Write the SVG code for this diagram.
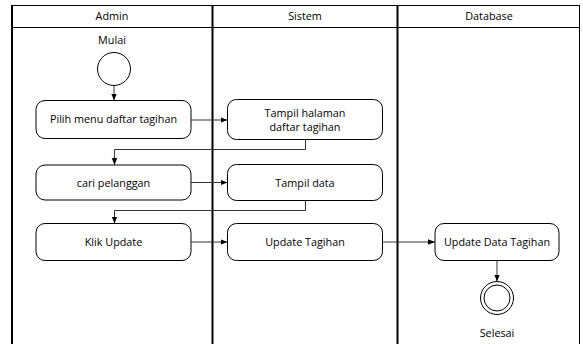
<svg xmlns="http://www.w3.org/2000/svg" width="583" height="344" viewBox="0 0 583 344">
<defs>
<marker id="arr" viewBox="0 0 10 10" refX="10" refY="5" markerWidth="7" markerHeight="7" markerUnits="userSpaceOnUse" orient="auto">
<path d="M0,1 L10,5 L0,9 Z" fill="#000"/>
</marker>
<style>
text{font-family:"Open Sans","Liberation Sans",Arial,sans-serif;font-size:10.8px;fill:#000;text-anchor:middle}
.act{fill:#fff;stroke:#000;stroke-width:1}
.lane{fill:none;stroke:#000;stroke-width:2}
.hdr{fill:none;stroke:#000;stroke-width:1}
.con{fill:none;stroke:#333;stroke-width:1;marker-end:url(#arr)}
</style>
</defs>
<rect width="583" height="344" fill="#fff"/>
<g id="lanes">
<line class="hdr" x1="12" y1="5.5" x2="580" y2="5.5"/>
<line class="hdr" x1="12" y1="27.5" x2="580" y2="27.5"/>
<line class="lane" x1="12" y1="5" x2="12" y2="344"/>
<line class="lane" x1="212.5" y1="5" x2="212.5" y2="344"/>
<line class="lane" x1="397.5" y1="5" x2="397.5" y2="344"/>
<line class="hdr" x1="579.5" y1="5" x2="579.5" y2="344"/>
<text x="112" y="20">Admin</text>
<text x="305" y="20">Sistem</text>
<text x="489" y="20">Database</text>
</g>
<g id="start">
<text x="112" y="44">Mulai</text>
<circle cx="114" cy="69" r="16.5" fill="#fff" stroke="#000"/>
</g>
<g id="pilih">
<rect class="act" x="36" y="100.5" width="155" height="38" rx="9"/>
<text x="113.5" y="123">Pilih menu daftar tagihan</text>
</g>
<g id="tampilhalaman">
<rect class="act" x="227.5" y="99.5" width="155" height="40" rx="9"/>
<text x="305" y="117">Tampil halaman</text>
<text x="305" y="131">daftar tagihan</text>
</g>
<g id="cari">
<rect class="act" x="36" y="165" width="155" height="35" rx="9"/>
<text x="113.5" y="187">cari pelanggan</text>
</g>
<g id="tampildata">
<rect class="act" x="227.5" y="164.5" width="155" height="36" rx="9"/>
<text x="305" y="187">Tampil data</text>
</g>
<g id="klik">
<rect class="act" x="36" y="223.5" width="155" height="37" rx="9"/>
<text x="113.5" y="246">Klik Update</text>
</g>
<g id="updatetagihan">
<rect class="act" x="227.5" y="223.5" width="155" height="37" rx="9"/>
<text x="305" y="246">Update Tagihan</text>
</g>
<g id="updatedata">
<rect class="act" x="435" y="223.5" width="124" height="37" rx="9"/>
<text x="497" y="246">Update Data Tagihan</text>
</g>
<g id="end">
<circle cx="497" cy="298" r="16.5" fill="#fff" stroke="#000"/>
<circle cx="497" cy="298" r="13" fill="none" stroke="#000"/>
<text x="497" y="337">Selesai</text>
</g>
<g id="connectors">
<path class="con" d="M114,85.5 V100.5"/>
<path class="con" d="M191,120 H227.5"/>
<path class="con" d="M305.5,139.5 V149.5 H114.5 V165"/>
<path class="con" d="M191,182.5 H227.5"/>
<path class="con" d="M305.5,200.5 V210.5 H114.5 V223.5"/>
<path class="con" d="M191,242 H227.5"/>
<path class="con" d="M382.5,242 H435"/>
<path class="con" d="M497,260.5 V281.5"/>
</g>
</svg>
